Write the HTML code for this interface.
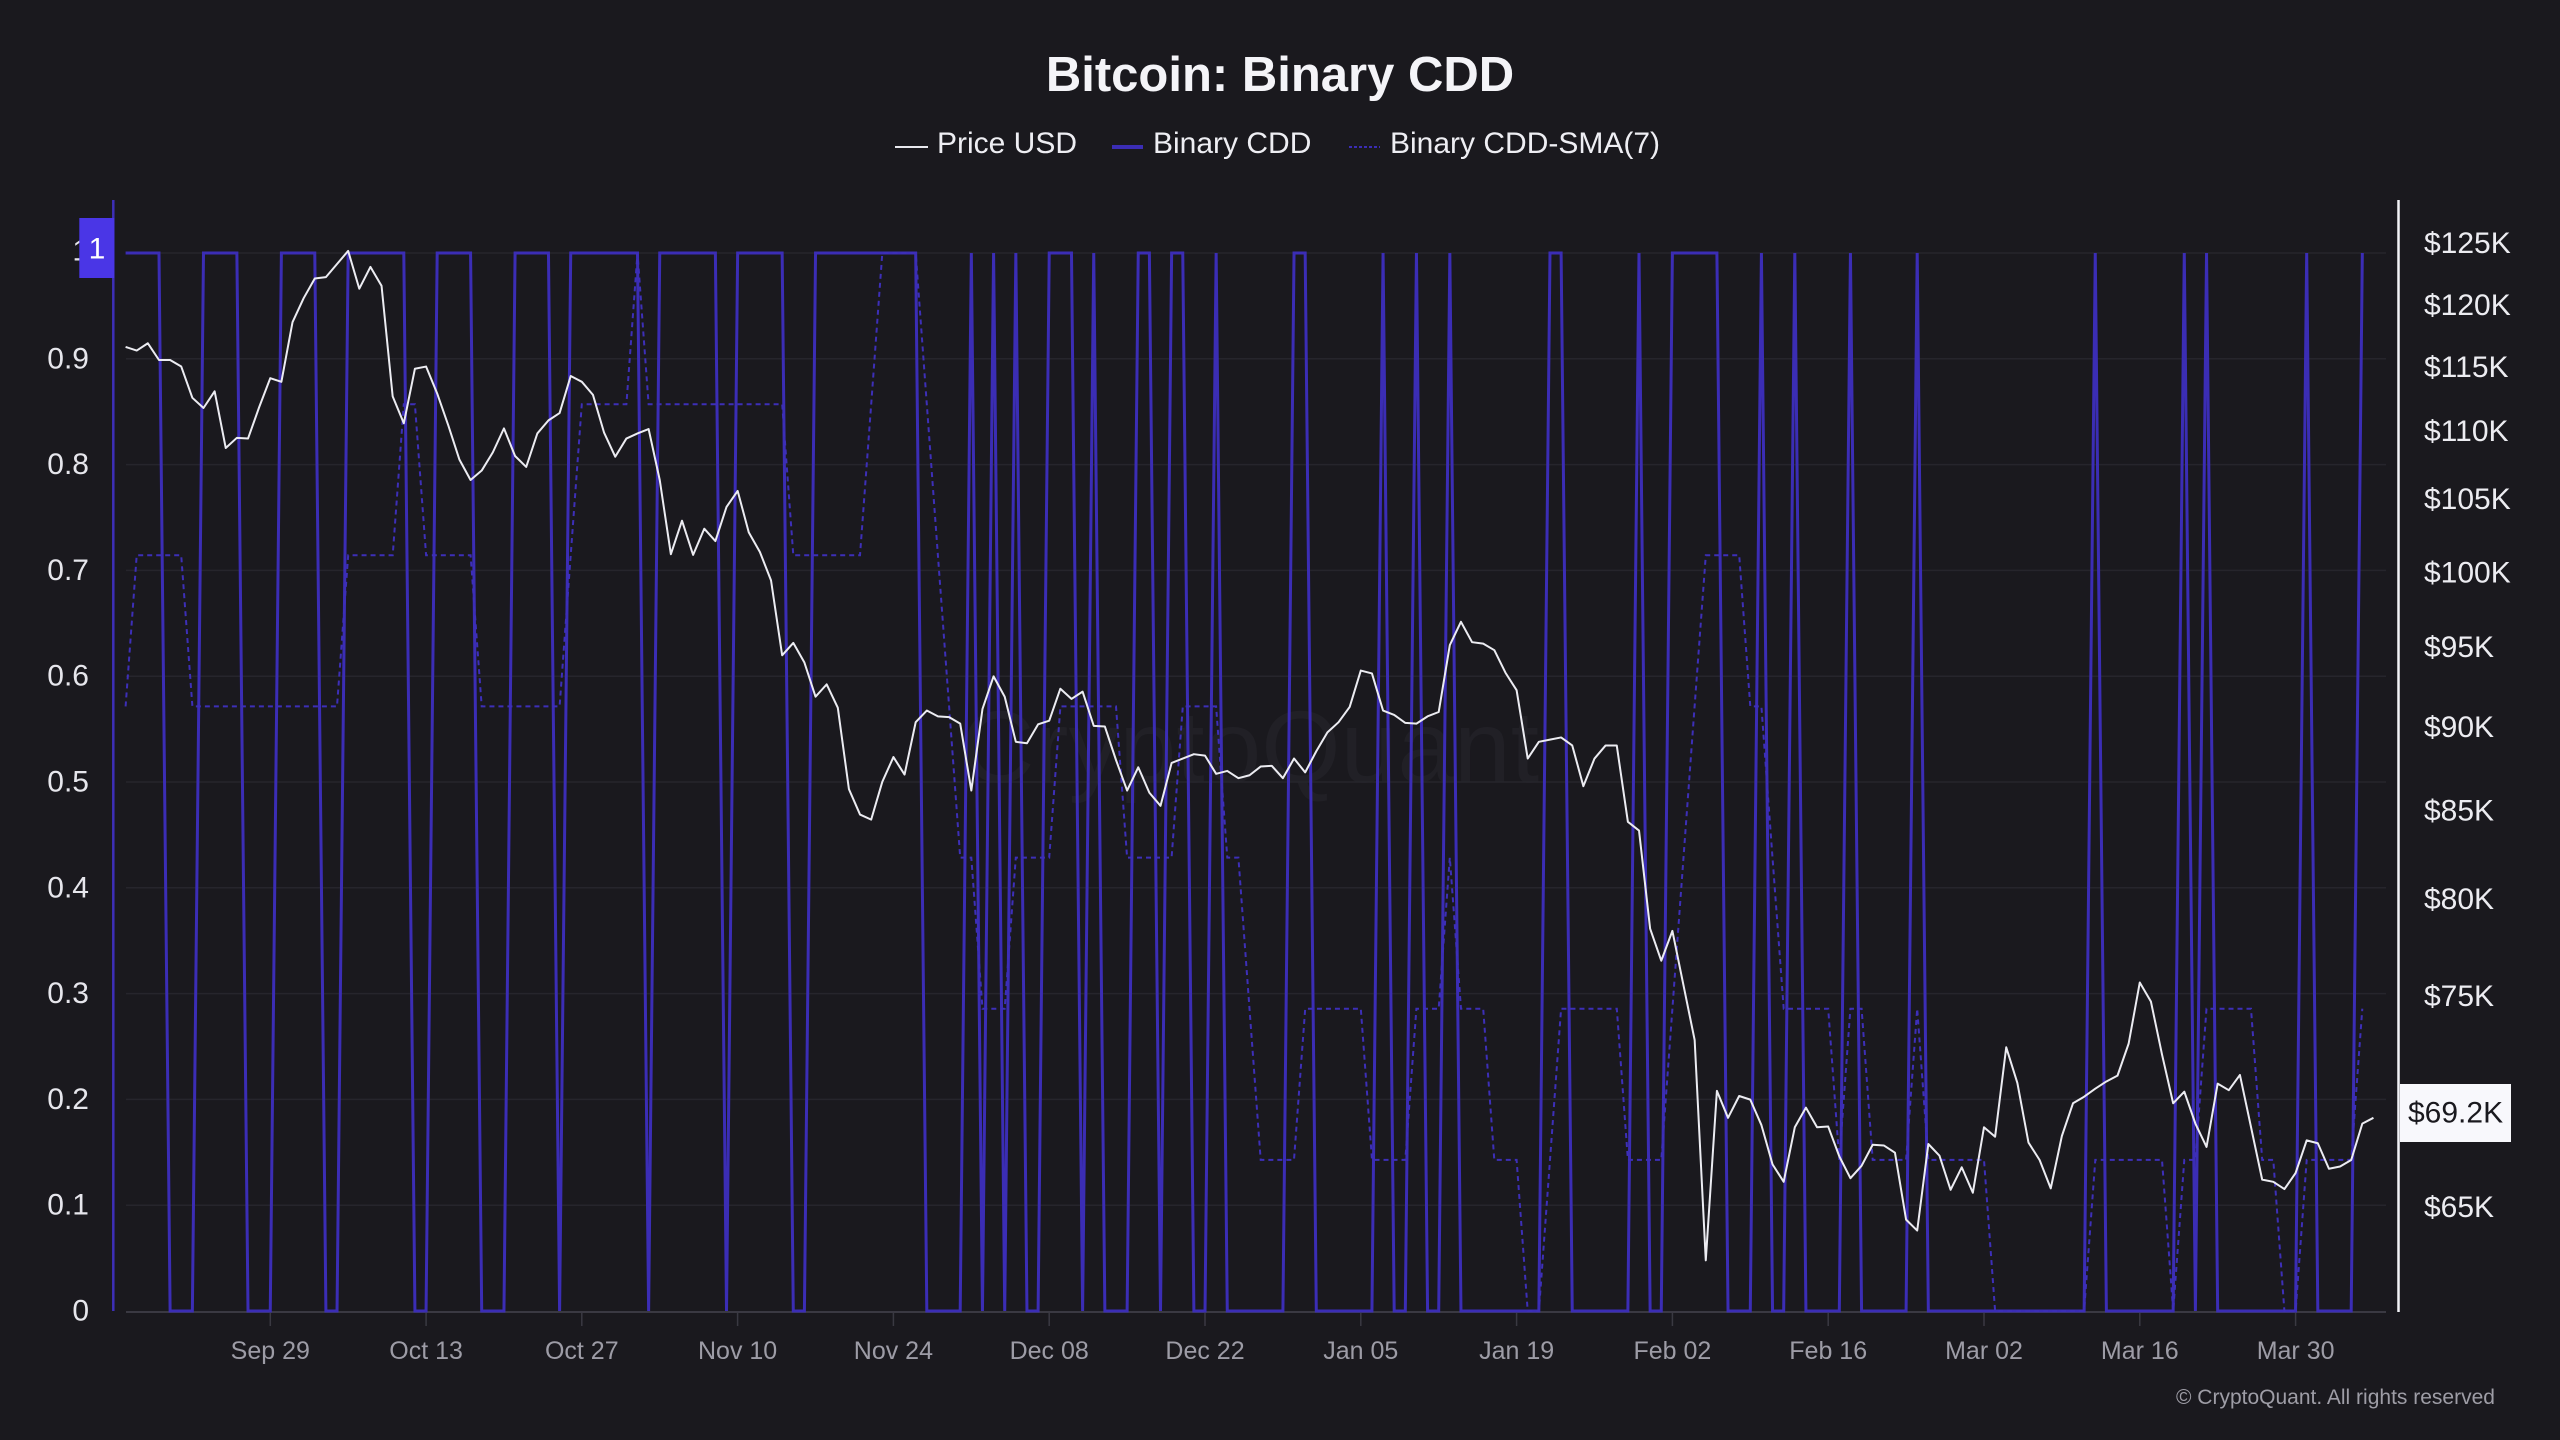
<!DOCTYPE html>
<html>
<head>
<meta charset="utf-8">
<style>
html,body{margin:0;padding:0;background:#1a191e;}
svg{display:block;font-family:"Liberation Sans",Arial,sans-serif;}
</style>
</head>
<body>
<svg width="2560" height="1440" viewBox="0 0 2560 1440" xmlns="http://www.w3.org/2000/svg">
<rect x="0" y="0" width="2560" height="1440" fill="#1a191e"/>

<!-- Title -->
<text x="1280" y="91" text-anchor="middle" font-size="49" font-weight="bold" fill="#f4f4f8">Bitcoin: Binary CDD</text>

<!-- Legend -->
<line x1="895" y1="147" x2="928" y2="147" stroke="#e8e8ee" stroke-width="2"/>
<text x="937" y="153" font-size="30" fill="#eeeef3">Price USD</text>
<line x1="1112" y1="147" x2="1143" y2="147" stroke="#3b2db5" stroke-width="4"/>
<text x="1153" y="153" font-size="30" fill="#eeeef3">Binary CDD</text>
<line x1="1349" y1="147" x2="1380" y2="147" stroke="#3b2db5" stroke-width="2" stroke-dasharray="3 2"/>
<text x="1390" y="153" font-size="30" fill="#eeeef3">Binary CDD-SMA(7)</text>

<!-- Watermark -->
<text x="1250" y="782" text-anchor="middle" font-size="102" fill="#212026">CryptoQuant</text>

<!-- Gridlines -->
<g stroke="#26252c" stroke-width="1.5">
<line x1="126" y1="253" x2="2386" y2="253"/>
<line x1="126" y1="358.8" x2="2386" y2="358.8"/>
<line x1="126" y1="464.6" x2="2386" y2="464.6"/>
<line x1="126" y1="570.4" x2="2386" y2="570.4"/>
<line x1="126" y1="676.2" x2="2386" y2="676.2"/>
<line x1="126" y1="782" x2="2386" y2="782"/>
<line x1="126" y1="887.8" x2="2386" y2="887.8"/>
<line x1="126" y1="993.6" x2="2386" y2="993.6"/>
<line x1="126" y1="1099.4" x2="2386" y2="1099.4"/>
<line x1="126" y1="1205.2" x2="2386" y2="1205.2"/>
</g>

<!-- Bottom axis -->
<line x1="126" y1="1312" x2="2386" y2="1312" stroke="#3a3942" stroke-width="2"/>
<g stroke="#3a3942" stroke-width="1.5">
<line x1="270.3" y1="1313" x2="270.3" y2="1326"/>
<line x1="426.1" y1="1313" x2="426.1" y2="1326"/>
<line x1="581.8" y1="1313" x2="581.8" y2="1326"/>
<line x1="737.6" y1="1313" x2="737.6" y2="1326"/>
<line x1="893.4" y1="1313" x2="893.4" y2="1326"/>
<line x1="1049.2" y1="1313" x2="1049.2" y2="1326"/>
<line x1="1205" y1="1313" x2="1205" y2="1326"/>
<line x1="1360.8" y1="1313" x2="1360.8" y2="1326"/>
<line x1="1516.6" y1="1313" x2="1516.6" y2="1326"/>
<line x1="1672.4" y1="1313" x2="1672.4" y2="1326"/>
<line x1="1828.2" y1="1313" x2="1828.2" y2="1326"/>
<line x1="1984" y1="1313" x2="1984" y2="1326"/>
<line x1="2139.8" y1="1313" x2="2139.8" y2="1326"/>
<line x1="2295.6" y1="1313" x2="2295.6" y2="1326"/>
</g>
<g font-size="25" fill="#9d9ca6" text-anchor="middle">
<text x="270.3" y="1359">Sep 29</text>
<text x="426.1" y="1359">Oct 13</text>
<text x="581.8" y="1359">Oct 27</text>
<text x="737.6" y="1359">Nov 10</text>
<text x="893.4" y="1359">Nov 24</text>
<text x="1049.2" y="1359">Dec 08</text>
<text x="1205" y="1359">Dec 22</text>
<text x="1360.8" y="1359">Jan 05</text>
<text x="1516.6" y="1359">Jan 19</text>
<text x="1672.4" y="1359">Feb 02</text>
<text x="1828.2" y="1359">Feb 16</text>
<text x="1984" y="1359">Mar 02</text>
<text x="2139.8" y="1359">Mar 16</text>
<text x="2295.6" y="1359">Mar 30</text>
</g>

<!-- Left axis labels -->
<g font-size="30" fill="#e6e6ec" text-anchor="end" dominant-baseline="central">
<text x="89" y="1311">0</text>
<text x="89" y="1205.2">0.1</text>
<text x="89" y="1099.4">0.2</text>
<text x="89" y="993.6">0.3</text>
<text x="89" y="887.8">0.4</text>
<text x="89" y="782">0.5</text>
<text x="89" y="676.2">0.6</text>
<text x="89" y="570.4">0.7</text>
<text x="89" y="464.6">0.8</text>
<text x="89" y="358.8">0.9</text>
<text x="89" y="251">1</text>
</g>

<!-- Right axis labels -->
<g font-size="30" fill="#ececf1" dominant-baseline="central">
<text x="2424" y="243.6">$125K</text>
<text x="2424" y="305.5">$120K</text>
<text x="2424" y="367.3">$115K</text>
<text x="2424" y="431.3">$110K</text>
<text x="2424" y="499.6">$105K</text>
<text x="2424" y="573.1">$100K</text>
<text x="2424" y="647.3">$95K</text>
<text x="2424" y="727.3">$90K</text>
<text x="2424" y="810.9">$85K</text>
<text x="2424" y="899.6">$80K</text>
<text x="2424" y="996.4">$75K</text>
<text x="2424" y="1207.3">$65K</text>
</g>

<!-- Binary CDD -->
<polyline fill="none" stroke="#3b2db5" stroke-width="3" vector-effect="non-scaling-stroke" transform="matrix(11.128 0 0 -1058 125.6 1311)"
points="0,1 3,1 4,0 6,0 7,1 10,1 11,0 13,0 14,1 17,1 18,0 19,0 20,1 25,1 26,0 27,0 28,1 31,1 32,0 34,0 35,1 38,1 39,0 40,1 46,1 47,0 48,1 53,1 54,0 55,1 59,1 60,0 61,0 62,1 71,1 72,0 75,0 76,1 77,0 78,1 79,0 80,1 81,0 82,0 83,1 85,1 86,0 87,1 88,0 90,0 91,1 92,1 93,0 94,1 95,1 96,0 97,0 98,1 99,0 104,0 105,1 106,1 107,0 112,0 113,1 114,0 115,0 116,1 117,0 118,0 119,1 120,0 127,0 128,1 129,1 130,0 135,0 136,1 137,0 138,0 139,1 143,1 144,0 146,0 147,1 148,0 149,0 150,1 151,0 154,0 155,1 156,0 160,0 161,1 162,0 176,0 177,1 178,0 184,0 185,1 186,0 187,1 188,0 195,0 196,1 197,0 200,0 201,1"/>

<!-- SMA(7) dashed -->
<polyline fill="none" stroke="#3d2fb8" stroke-width="2" stroke-dasharray="5 4"
points="125.6,706.4 136.7,555.3 181.2,555.3 192.4,706.4 337.0,706.4 348.2,555.3 392.7,555.3 403.8,404.2 414.9,404.2 426.1,555.3 470.6,555.3 481.7,706.4 559.6,706.4 570.7,555.3 581.8,404.2 626.4,404.2 637.5,253 648.6,404.2 782.2,404.2 793.3,555.3 860.0,555.3 871.2,404.2 882.3,253 915.7,253 926.8,404.2 937.9,555.3 949.1,706.4 960.2,857.6 971.3,857.6 982.5,1008.7 1004.7,1008.7 1015.8,857.6 1049.2,857.6 1060.4,706.4 1116.0,706.4 1127.1,857.6 1171.6,857.6 1182.8,706.4 1216.1,706.4 1227.3,857.6 1238.4,857.6 1249.5,1008.7 1260.7,1159.9 1294.0,1159.9 1305.2,1008.7 1360.8,1008.7 1372.0,1159.9 1405.3,1159.9 1416.4,1008.7 1438.7,1008.7 1449.8,857.6 1461.0,1008.7 1483.2,1008.7 1494.3,1159.9 1516.6,1159.9 1527.7,1311 1538.9,1311 1550.0,1159.9 1561.1,1008.7 1616.8,1008.7 1627.9,1159.9 1661.3,1159.9 1672.4,1008.7 1683.5,857.6 1694.6,706.4 1705.8,555.3 1739.2,555.3 1750.3,706.4 1761.4,706.4 1772.5,857.6 1783.7,1008.7 1828.2,1008.7 1839.3,1159.9 1850.4,1008.7 1861.6,1008.7 1872.7,1159.9 1906.1,1159.9 1917.2,1008.7 1928.3,1159.9 1984.0,1159.9 1995.1,1311 2084.1,1311 2095.3,1159.9 2162.0,1159.9 2173.2,1311 2184.3,1159.9 2195.4,1159.9 2206.5,1008.7 2251.0,1008.7 2262.2,1159.9 2273.3,1159.9 2284.4,1311 2295.6,1311 2306.7,1159.9 2351.2,1159.9 2362.3,1008.7"/>

<!-- Price USD -->
<polyline fill="none" stroke="#ececf2" stroke-width="2" stroke-linejoin="round" vector-effect="non-scaling-stroke" transform="matrix(11.128 0 0 0.72727 125.6 200)"
points="0,202 1,207 2,197 3,220 4,220 5,229 6,272 7,286 8,263 9,341 10,327 11,328 12,285 13,245 14,250 15,168 16,135 17,108 18,106 19,88 20,70 21,122 22,92 23,118 24,270 25,307 26,232 27,229 28,266 29,310 30,357 31,385 32,372 33,347 34,314 35,352 36,367 37,321 38,303 39,293 40,242 41,250 42,268 43,320 44,353 45,328 46,321 47,315 48,385 49,487 50,441 51,488 52,452 53,469 54,422 55,400 56,457 57,484 58,523 59,626 60,609 61,636 62,683 63,666 64,698 65,810 66,845 67,852 68,800 69,766 70,790 71,718 72,702 73,710 74,711 75,720 76,812 77,700 78,655 79,683 80,745 81,747 82,721 83,716 84,672 85,686 86,676 87,723 88,724 89,770 90,812 91,780 92,815 93,833 94,774 95,768 96,762 97,764 98,789 99,785 100,795 101,791 102,779 103,778 104,795 105,768 106,787 107,758 108,732 109,718 110,697 111,647 112,651 113,702 114,708 115,719 116,720 117,710 118,704 119,612 120,580 121,608 122,610 123,619 124,650 125,674 126,768 127,745 128,742 129,739 130,750 131,806 132,768 133,750 134,750 135,855 136,867 137,1002 138,1046 139,1005 140,1080 141,1155 142,1458 143,1225 144,1262 145,1232 146,1237 147,1272 148,1326 149,1350 150,1275 151,1248 152,1275 153,1274 154,1315 155,1345 156,1328 157,1299 158,1300 159,1310 160,1402 161,1417 162,1298 163,1314 164,1361 165,1330 166,1365 167,1275 168,1288 169,1165 170,1214 171,1296 172,1320 173,1359 174,1287 175,1242 176,1233 177,1222 178,1212 179,1204 180,1160 181,1076 182,1102 183,1175 184,1242 185,1226 186,1270 187,1302 188,1215 189,1224 190,1203 191,1275 192,1347 193,1350 194,1360 195,1338 196,1293 197,1297 198,1332 199,1329 200,1320 201,1270 202,1262"/>

<!-- Left axis line -->
<line x1="113.3" y1="200" x2="113.3" y2="1311" stroke="#3d2fb8" stroke-width="2.5"/>
<!-- "1" highlight box -->
<rect x="79.3" y="218" width="35" height="60" fill="#4a36e6"/>
<text x="97" y="249" font-size="30" fill="#ffffff" text-anchor="middle" dominant-baseline="central">1</text>

<!-- Right axis line -->
<line x1="2398.5" y1="200" x2="2398.5" y2="1312" stroke="#f2f2f6" stroke-width="2.5"/>

<!-- Current price box -->
<rect x="2400" y="1084" width="111" height="58" fill="#f8f8fc"/>
<text x="2408" y="1113" font-size="30" fill="#1a191e" dominant-baseline="central">$69.2K</text>

<!-- Copyright -->
<text x="2176" y="1404" font-size="21" fill="#9e9da6">© CryptoQuant. All rights reserved</text>
</svg>
</body>
</html>
